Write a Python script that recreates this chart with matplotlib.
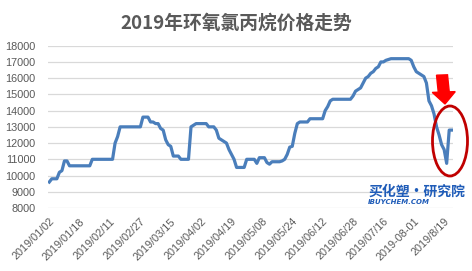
#!/usr/bin/env python3
# 2019 epichlorohydrin price trend - line chart with annotation marks

import numpy as np
import matplotlib
matplotlib.use('Agg')
import matplotlib.pyplot as plt
from matplotlib.patches import Ellipse, FancyArrow

#- daily prices (yuan/ton)
prices = [9600, 9800, 9800, 9800, 10200, 10300, 10900, 10900,
          10600, 10600, 10600, 10600, 10600, 10600, 10600, 10600, 10600,
          11000, 11000, 11000, 11000, 11000, 11000, 11000, 11000, 11000,
          12000, 12400,
          13000, 13000, 13000, 13000, 13000, 13000, 13000, 13000, 13000,
          13600, 13600, 13600, 13300, 13300, 13200, 13200,
          12900, 12800, 12200, 11900, 11800, 11200, 11200, 11200,
          11000, 11000, 11000, 11000,
          13000, 13100, 13200, 13200, 13200, 13200, 13200,
          13000, 13000, 13000, 12800, 12300, 12200, 12100, 12000,
          11600, 11300, 11000, 10500, 10500, 10500, 10500,
          11000, 11000, 11000, 11000, 10750, 11100, 11100, 11100,
          10800, 10700, 10850, 10850, 10850, 10850, 10900, 11000,
          11300, 11750, 11800, 12600, 13200,
          13300, 13300, 13300, 13300,
          13500, 13500, 13500, 13500, 13500, 13500,
          14000, 14250, 14600,
          14700, 14700, 14700, 14700, 14700, 14700, 14700, 14700,
          14900, 15200, 15300, 15400, 15700, 16000, 16100, 16300,
          16400, 16600, 16700, 17000, 17000, 17100, 17150,
          17200, 17200, 17200, 17200, 17200, 17200, 17200, 17200,
          17100, 16700, 16400, 16300, 16200, 16100, 15700,
          14600, 14300, 13800, 13000, 12500, 11900, 11600,
          10750, 12800, 12800]

tick_labels = ['2019/01/02', '2019/01/18', '2019/02/11', '2019/02/27',
               '2019/03/15', '2019/04/02', '2019/04/19', '2019/05/08',
               '2019/05/24', '2019/06/12', '2019/06/28', '2019/07/16',
               '2019-08-01', '2019/8/19']
tick_step = 12

plt.rcParams['font.family'] = ['Noto Sans CJK SC', 'DejaVu Sans']

W, H = 472, 271
fig = plt.figure(figsize=(W / 100, H / 100), dpi=100)
ax = fig.add_axes([48 / W, 1 - 208 / H, 405 / W, (208 - 45.7) / H])

x = np.arange(len(prices))
ax.plot(x, prices, color='#4a7ebb', linewidth=2.3, solid_joinstyle='round')

ax.set_xlim(-0.5, len(prices) - 0.5)
ax.set_ylim(8000, 18000)
ax.set_yticks(np.arange(8000, 18001, 1000))
ax.yaxis.grid(True, color='#d9d9d9', linewidth=0.9)
ax.set_axisbelow(True)
for sp in ax.spines.values():
    sp.set_visible(False)

ax.set_xticks(np.arange(len(tick_labels)) * tick_step)
ax.set_xticklabels(tick_labels, rotation=45, ha='right', rotation_mode='anchor',
                   family=['Liberation Sans', 'DejaVu Sans'])
ax.tick_params(axis='both', length=0, labelsize=7.8, colors='#595959')
ax.tick_params(axis='x', pad=6)
ax.tick_params(axis='y', pad=9)
for lab in ax.get_yticklabels():
    lab.set_family(['Liberation Sans', 'DejaVu Sans'])

fig.text(0.5, 1 - 23 / H, '2019年环氧氯丙烷价格走势', ha='center', va='center',
         fontsize=13.5, fontweight='bold', color='#595959')

#- red arrow and circle around the latest drop (figure pixel coords)
px = lambda xp, yp: (xp / W, 1 - yp / H)
ax0, ay0 = px(442, 75)
ax1, ay1 = px(445, 104)
fig.patches.append(FancyArrow(ax0, ay0, ax1 - ax0, ay1 - ay0,
                              width=11 / W, head_width=23 / W,
                              head_length=12 / H, length_includes_head=True,
                              color='#ff0000', transform=fig.transFigure,
                              figure=fig))
cx, cy = px(450, 141)
fig.patches.append(Ellipse((cx, cy), 35 / W, 70 / H, fill=False,
                           edgecolor='#c00000', linewidth=2,
                           transform=fig.transFigure, figure=fig))

#- watermark
fig.text(368 / W, 1 - 192 / H, '买化塑·研究院', ha='left', va='center',
         fontsize=10, fontweight='bold', style='italic', color='#1f5cb8')
fig.text(368 / W, 1 - 201.5 / H, 'IBUYCHEM.COM', ha='left', va='center',
         fontsize=5, fontweight='bold', style='italic', color='#1f5cb8',
         family=['DejaVu Sans'])

fig.savefig('out.png', dpi=100)
